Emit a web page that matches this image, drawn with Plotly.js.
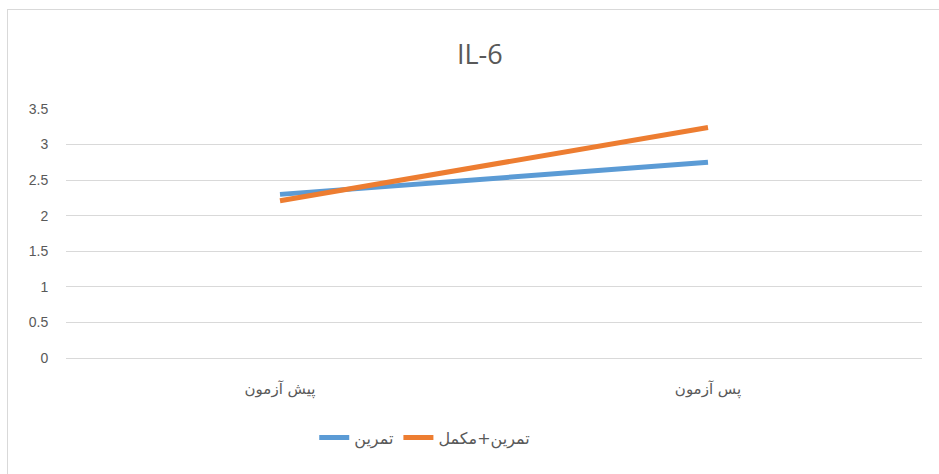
<!DOCTYPE html>
<html>
<head>
<meta charset="utf-8">
<script src="https://cdn.plot.ly/plotly-3.0.1.min.js"></script>
<style>
html,body{margin:0;padding:0;background:#fff;}
#wrap{position:relative;width:939px;height:474px;overflow:hidden;}
#chart{position:absolute;left:0;top:0;width:939px;height:474px;}
#frame{position:absolute;left:7px;top:9px;width:960px;height:500px;border:1.5px solid #d9d9d9;pointer-events:none;}
</style>
</head>
<body>
<div id="wrap"><div id="chart"></div><div id="frame"></div></div>
<script>
const categories = ["پیش آزمون", "پس آزمون"];
const seriesNames = ["تمرین", "تمرین+مکمل"];
const exerciseValues = [2.30, 2.75];
const exerciseSupplementValues = [2.21, 3.24];
const yTickValues = [0, 0.5, 1, 1.5, 2, 2.5, 3, 3.5];
const yTickLabels = ["0", "0.5", "1", "1.5", "2", "2.5", "3", "3.5"];

const traces = [
  {x: categories, y: exerciseValues, name: seriesNames[0], type: "scatter", mode: "lines",
   line: {color: "#5B9BD5", width: 5}},
  {x: categories, y: exerciseSupplementValues, name: seriesNames[1], type: "scatter", mode: "lines",
   line: {color: "#ED7D31", width: 5}}
];

const layout = {
  width: 939, height: 474,
  margin: {l: 66, r: 17, t: 109, b: 116},
  paper_bgcolor: "#fff", plot_bgcolor: "#fff",
  title: {text: "IL-6", x: 0.511, xanchor: "center", y: 0.885, yanchor: "middle",
          font: {family: "Open Sans, Liberation Sans, sans-serif", size: 27, color: "#595959"}},
  xaxis: {type: "category", range: [-0.5, 1.5], showgrid: false, zeroline: false, showline: false,
          ticks: "outside", ticklen: 17, tickcolor: "rgba(0,0,0,0)",
          tickfont: {family: "DejaVu Sans, sans-serif", size: 15, color: "#595959"}},
  yaxis: {range: [0, 3.5], tickvals: yTickValues, ticktext: yTickLabels, showgrid: true,
          gridcolor: "#d9d9d9", gridwidth: 1, zeroline: true, zerolinecolor: "#d9d9d9", zerolinewidth: 1,
          showline: false, ticks: "outside", ticklen: 14, tickcolor: "rgba(0,0,0,0)",
          tickfont: {family: "Liberation Sans, Arial, sans-serif", size: 14, color: "#595959"}},
  showlegend: true,
  legend: {orientation: "h", x: 0.29, xanchor: "left", y: -0.32, yanchor: "middle",
           font: {family: "DejaVu Sans, sans-serif", size: 16, color: "#595959"}, traceorder: "normal"}
};

Plotly.newPlot("chart", traces, layout, {displayModeBar: false, staticPlot: true});
</script>
</body>
</html>
